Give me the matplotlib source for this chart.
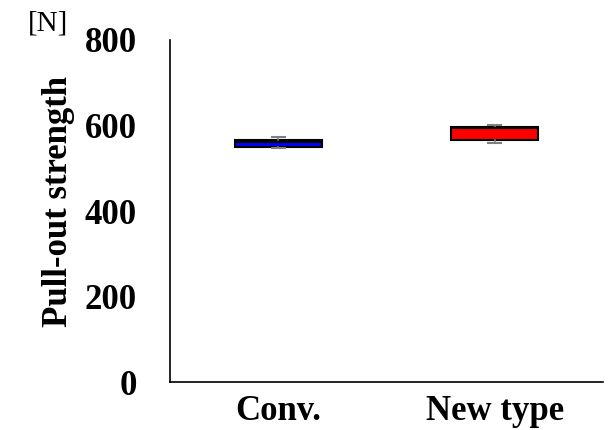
import matplotlib.pyplot as plt

plt.rcParams['font.family'] = ['Liberation Serif', 'DejaVu Serif']

# 데이터
categories = ['Conv.', 'New type']
whis_low = [548, 558]
q1 = [550, 565]
median = [561, 594]
q3 = [567, 597]
whis_high = [574, 600]
colors = ['#0000ff', '#ff0000']

stats = []
for i in range(len(categories)):
    stats.append({'label': categories[i], 'whislo': whis_low[i], 'q1': q1[i],
                  'med': median[i], 'q3': q3[i], 'whishi': whis_high[i], 'fliers': []})

fig = plt.figure(figsize=(6.13, 4.30), dpi=100)
ax = fig.add_axes([0.2773, 0.1116, 0.7064, 0.7954])

bp = ax.bxp(stats, positions=[0, 1], widths=0.4, patch_artist=True,
            showfliers=False,
            boxprops=dict(edgecolor='black', linewidth=1.5),
            medianprops=dict(color='black', linewidth=1.5),
            whiskerprops=dict(color='#808080', linewidth=1.2),
            capprops=dict(color='#808080', linewidth=1.5),
            capwidths=0.06)
for patch, c in zip(bp['boxes'], colors):
    patch.set_facecolor(c)

ax.set_xlim(-0.5, 1.5)
ax.set_ylim(0, 800)
ax.set_yticks([0, 200, 400, 600, 800])
ax.tick_params(length=0, labelsize=25)
ax.tick_params(axis='y', pad=24)
ax.tick_params(axis='x', pad=9)
for lbl in ax.get_xticklabels() + ax.get_yticklabels():
    lbl.set_fontweight('bold')

ax.spines['top'].set_visible(False)
ax.spines['right'].set_visible(False)
ax.spines['left'].set_linewidth(1.2)
ax.spines['bottom'].set_linewidth(1.2)

ax.set_ylabel('Pull-out strength', fontsize=25, fontweight='bold', labelpad=7)
ax.yaxis.label.set_y(0.528)
fig.text(0.045, 0.946, '[N]', fontsize=21, ha='left', va='center')

fig.savefig('out.png', dpi=100)
